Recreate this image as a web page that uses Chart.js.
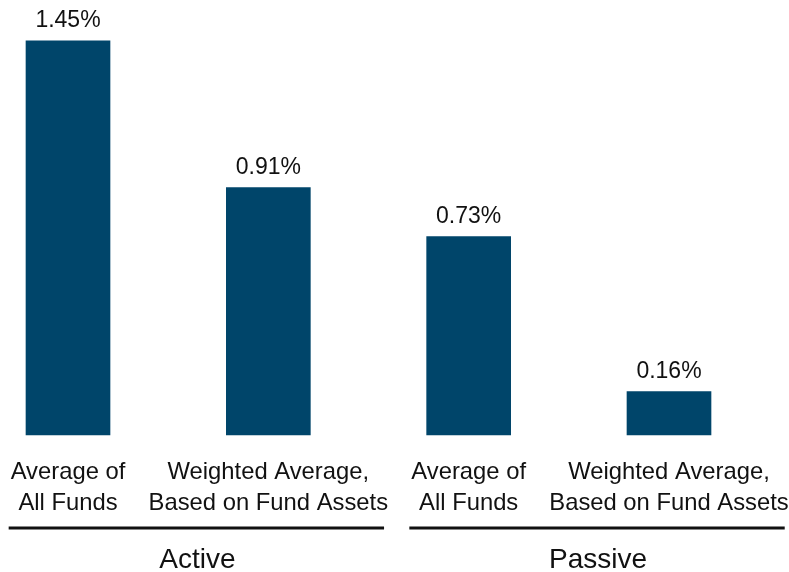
<!DOCTYPE html>
<html>
<head>
<meta charset="utf-8">
<script src="https://cdn.jsdelivr.net/npm/chart.js@4"></script>
<style>
  html, body { margin: 0; padding: 0; background: #ffffff; }
  #wrap { width: 789px; height: 572px; }
</style>
</head>
<body>
<div id="wrap"><canvas id="c" width="789" height="572"></canvas></div>
<script>
const categories = [
  ["Average of", "All Funds"],
  ["Weighted Average,", "Based on Fund Assets"],
  ["Average of", "All Funds"],
  ["Weighted Average,", "Based on Fund Assets"]
];
const expenseRatios = [1.45, 0.91, 0.73, 0.16];
const groupNames = ["Active", "Passive"];
const groupMembers = [[0, 1], [2, 3]];

const FONT = "'Liberation Sans', Arial, sans-serif";
const BAR_COLOR = "#00456A";

const valueLabels = {
  id: "valueLabels",
  afterDatasetsDraw(chart) {
    const ctx = chart.ctx;
    const meta = chart.getDatasetMeta(0);
    ctx.save();
    ctx.font = "23px " + FONT;
    ctx.fillStyle = "#111111";
    ctx.textAlign = "center";
    ctx.textBaseline = "alphabetic";
    meta.data.forEach((bar, i) => {
      ctx.fillText(expenseRatios[i].toFixed(2) + "%", bar.x, bar.y - 14);
    });
    ctx.restore();
  }
};

const groupLabels = {
  id: "groupLabels",
  afterDraw(chart) {
    const ctx = chart.ctx;
    const xs = chart.scales.x;
    const bottom = chart.chartArea.bottom;
    ctx.save();
    groupMembers.forEach((members, g) => {
      let left = Infinity, right = -Infinity;
      ctx.font = "23.8px " + FONT;
      members.forEach(i => {
        const cx = xs.getPixelForValue(i);
        categories[i].forEach(line => {
          const w = ctx.measureText(line).width;
          left = Math.min(left, cx - w / 2);
          right = Math.max(right, cx + w / 2);
        });
      });
      ctx.strokeStyle = "#111111";
      ctx.lineWidth = 3;
      ctx.beginPath();
      ctx.moveTo(left - 2, bottom + 93);
      ctx.lineTo(right - 4, bottom + 93);
      ctx.stroke();
      ctx.font = "28px " + FONT;
      ctx.fillStyle = "#111111";
      ctx.textAlign = "center";
      ctx.textBaseline = "alphabetic";
      ctx.fillText(groupNames[g], (left + right) / 2 - 2, bottom + 133);
    });
    ctx.restore();
  }
};

new Chart(document.getElementById("c"), {
  type: "bar",
  data: {
    labels: categories,
    datasets: [{
      data: expenseRatios,
      backgroundColor: BAR_COLOR,
      borderWidth: 0,
      barThickness: 84,
      clip: false
    }]
  },
  options: {
    responsive: false,
    animation: false,
    devicePixelRatio: 1,
    layout: { padding: { left: 68, right: 120, top: 0, bottom: 0 } },
    plugins: { legend: { display: false }, tooltip: { enabled: false } },
    scales: {
      x: {
        offset: false,
        grid: { display: false, drawTicks: false, tickLength: 0 },
        border: { display: false },
        ticks: {
          maxRotation: 0,
          autoSkip: false,
          padding: 22,
          color: "#111111",
          font: { family: FONT, size: 23.8, lineHeight: 1.3 }
        },
        afterFit(scale) {
          scale.height = 137;
          scale.paddingLeft = 0;
          scale.paddingRight = 0;
        }
      },
      y: {
        display: false,
        min: 0,
        max: 1.6,
        grid: { display: false }
      }
    }
  },
  plugins: [valueLabels, groupLabels]
});
</script>
</body>
</html>
